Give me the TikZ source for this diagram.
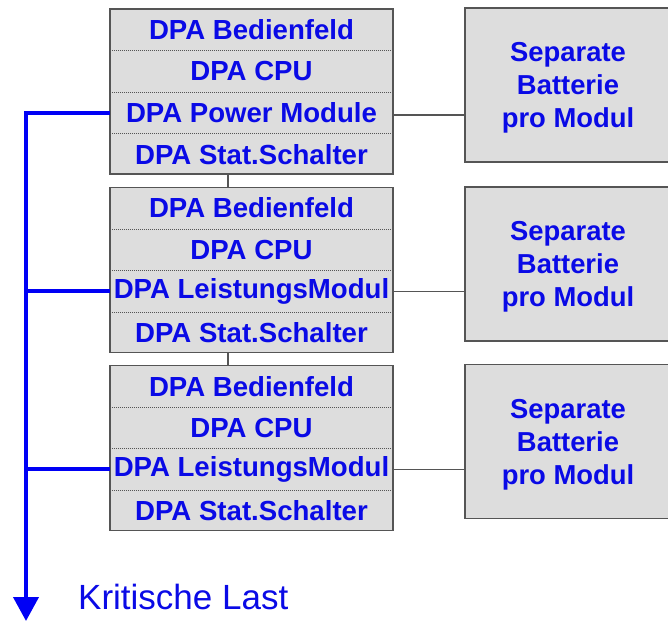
\documentclass[tikz,border=0pt]{standalone}
\usepackage{fontspec}
\setmainfont{Liberation Sans}
\usetikzlibrary{arrows.meta,calc}
\definecolor{txtblue}{RGB}{10,10,230}
\definecolor{feedblue}{RGB}{0,0,245}
\definecolor{boxfill}{RGB}{221,221,221}
\definecolor{boxline}{RGB}{85,85,85}
\begin{document}
\begin{tikzpicture}[x=1pt,y=-1pt,
 modbox/.style={draw=boxline, line width=1.4pt, fill=boxfill, minimum width=283pt, minimum height=165pt, inner sep=0pt},
 rowtext/.style={text=txtblue, font=\fontsize{27.6}{30}\selectfont\bfseries, minimum width=283pt, minimum height=41.25pt, inner sep=0pt},
 sep/.style={boxline, dash pattern=on 1pt off 1pt, line width=0.7pt},
 batbox/.style={draw=boxline, line width=1.4pt, fill=boxfill, minimum width=206pt, minimum height=154pt, inner sep=0pt},
 battext/.style={inner sep=0pt, text=txtblue, font=\fontsize{27.4}{33}\selectfont\bfseries, align=center},
 thinlink/.style={boxline, line width=1.2pt},
 feed/.style={draw=feedblue, line width=4pt, line join=miter}
]
\useasboundingbox (0,0) rectangle (668,622);

% module stacks
\foreach \i/\y/\lbl in {1/91.5/DPA Power Module, 2/270/DPA LeistungsModul, 3/448/DPA LeistungsModul}{
  \node[modbox] (M\i) at (251.5,\y) {};
  \node[rowtext, anchor=north] (m\i a) at ($(M\i.north)+(0,0.5)$) {DPA Bedienfeld};
  \node[rowtext, anchor=north] (m\i b) at (m\i a.south) {DPA CPU};
  \node[rowtext, anchor=north] (m\i c) at (m\i b.south) {\lbl};
  \node[rowtext, anchor=north] (m\i d) at (m\i c.south) {DPA Stat.Schalter};
  \draw[sep] (m\i a.south west) -- (m\i a.south east);
  \draw[sep] (m\i b.south west) -- (m\i b.south east);
  \draw[sep] (m\i c.south west) -- (m\i c.south east);
}

% batteries
\node[batbox] (B1) at (568,85) {};
\node[batbox] (B2) at (568,264) {};
\node[batbox] (B3) at (568,441.5) {};
\foreach \i in {1,2,3}{
  \node[battext] (Bt\i) at ($(B\i.center)+(0,3)$) {Separate\\Batterie\\pro Modul};
}

% links between stacks
\coordinate (vx) at (228,0);
\draw[thinlink] (M1.south -| vx) -- (M2.north -| vx);
\draw[thinlink] (M2.south -| vx) -- (M3.north -| vx);

% battery links
\draw[thinlink] ($(m1c.east)+(0,2)$) -- ($(m1c.east -| B1.west)+(0,2)$);
\draw[thinlink] (m2c.east) -- (m2c.east -| B2.west);
\draw[thinlink] (m3c.east) -- (m3c.east -| B3.west);

% feed line
\coordinate (tip) at (26,621);
\draw[feed, -{Triangle[length=24pt,width=25pt]}] (m1c.west) -| (tip);
\draw[feed] (m2c.west) -- (m2c.west -| tip);
\draw[feed] (m3c.west) -- (m3c.west -| tip);

\node[anchor=base west, inner sep=0pt, text=txtblue, font=\fontsize{35}{40}\selectfont] (kl) at (78,609) {Kritische Last};
\end{tikzpicture}
\end{document}
